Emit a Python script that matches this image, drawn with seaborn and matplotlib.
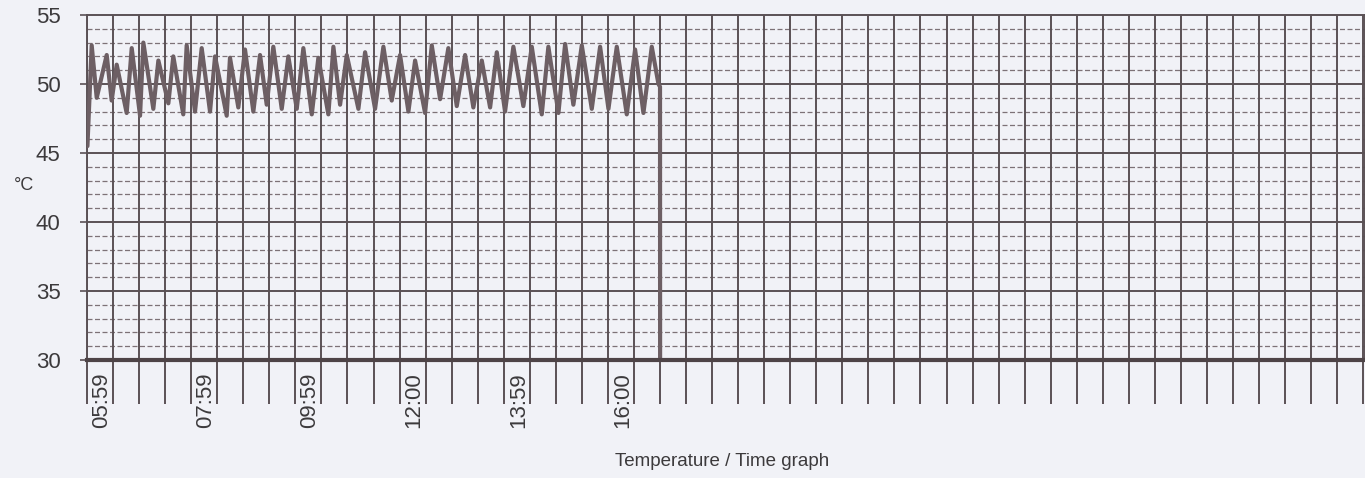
"""Temperature / time chart recreated from a scanned logger printout"""
import matplotlib.pyplot as plt
import numpy as np
import pandas as pd
import seaborn as sns
from matplotlib.transforms import ScaledTranslation

sns.set_style("white")
plt.rcParams["font.family"] = ["Liberation Sans", "DejaVu Sans"]

minutes = [
    0.5, 5.4, 11.2, 22.7, 28.4, 34.2, 45.7, 51.5, 61.1, 64.9, 76.4, 82.2,
    93.7, 99.4, 110.9, 114.8, 124.4, 132.1, 141.7, 147.5, 160.9, 164.7,
    174.3, 182.0, 191.6, 199.3, 207.0, 214.6, 224.3, 231.9, 241.6, 249.2,
    258.9, 266.5, 278.0, 283.8, 291.5, 299.2, 312.6, 320.3, 331.8, 341.4,
    351.0, 360.6, 370.2, 377.9, 389.4, 397.1, 406.7, 416.2, 425.9, 435.5,
    445.0, 454.7, 464.3, 472.0, 481.5, 491.1, 502.6, 512.3, 523.8, 531.4,
    543.0, 550.7, 560.2, 569.9, 581.4, 591.0, 600.6, 610.2, 621.7, 631.3,
    640.9, 650.5, 658.2, 660.0, 660.1,
]
temps = [
    45.5, 52.8, 49.0, 52.1, 48.8, 51.4, 47.9, 52.6, 47.7, 53.0, 48.2, 51.7,
    48.6, 52.0, 47.8, 52.8, 48.0, 52.6, 48.0, 52.0, 47.7, 51.9,
    48.3, 52.5, 48.0, 52.1, 48.5, 52.7, 48.2, 52.0, 48.2, 52.6,
    47.8, 51.9, 47.8, 52.7, 48.5, 52.1, 48.2, 52.3, 48.2, 52.7,
    48.8, 52.1, 48.0, 51.7, 47.9, 52.8, 48.9, 52.6, 48.4, 52.1,
    48.3, 51.7, 48.3, 52.3, 48.0, 52.7, 48.4, 52.7, 47.8, 52.7,
    47.9, 52.9, 48.5, 52.8, 48.2, 52.7, 48.2, 52.7, 47.8, 52.5,
    47.9, 52.7, 50.0, 49.8, 30.0,
]

tick_minutes = np.arange(0, 1471, 30)
labelled = {30: "05:59", 150: "07:59", 270: "09:59", 390: "12:00", 510: "13:59", 630: "16:00"}
tick_labels = [labelled.get(int(t), "") for t in tick_minutes]

paper = "#f1f2f7"
ink = "#5a5155"
trace = "#6d5f64"
text_col = "#3c3a3c"

df = pd.DataFrame({"minutes": minutes, "temp": temps})

fig = plt.figure(figsize=(13.65, 4.78), dpi=100, facecolor=paper)
ax = fig.add_axes([87 / 1365, 1 - 360 / 478, 1278 / 1365, 345 / 478], facecolor=paper)

# paper grid
for y in range(31, 55):
    if y % 5:
        ax.axhline(y, color="#7d7277", lw=0.9, ls=(0, (4, 2)), zorder=1)
for y in [35, 40, 45, 50]:
    ax.axhline(y, color=ink, lw=1.4, zorder=1.5)
for t in tick_minutes:
    ax.axvline(t, color=ink, lw=1.4, zorder=1.5)

sns.lineplot(data=df, x="minutes", y="temp", sort=False, color=trace,
             lw=3.0, ax=ax, zorder=3)

ax.set_xlim(0, 1472)
ax.set_ylim(30, 55)
ax.set_yticks([30, 35, 40, 45, 50, 55])
ax.tick_params(axis="y", left=True, length=5, width=1.2, color=ink, pad=14,
               labelsize=16, labelcolor=text_col)
ax.set_xticks(tick_minutes, labels=tick_labels, rotation=90)
ax.tick_params(axis="x", bottom=True, length=32, width=1.4, color=ink, pad=-23,
               labelsize=16, labelcolor=text_col)
for lbl in ax.get_xticklabels():
    lbl.set_verticalalignment("top")
    lbl.set_transform(lbl.get_transform() + ScaledTranslation(-0.115, 0, fig.dpi_scale_trans))

for side in ["left", "top", "right"]:
    ax.spines[side].set_color(ink)
    ax.spines[side].set_linewidth(1.4)
ax.spines["bottom"].set_color("#4e4447")
ax.spines["bottom"].set_linewidth(3)
ax.spines["bottom"].set_zorder(4)

ax.set_ylabel("°C", rotation=0, fontsize=13, color=text_col, va="center", ha="center")
ax.yaxis.set_label_coords((24 - 87) / 1278, (360 - 185) / 345)
ax.set_xlabel("Temperature / Time graph", fontsize=13.5, color=text_col, va="center")
ax.xaxis.set_label_coords((722 - 87) / 1278, (360 - 462) / 345)

plt.savefig("out.png", dpi=100, facecolor=paper)
plt.close()
